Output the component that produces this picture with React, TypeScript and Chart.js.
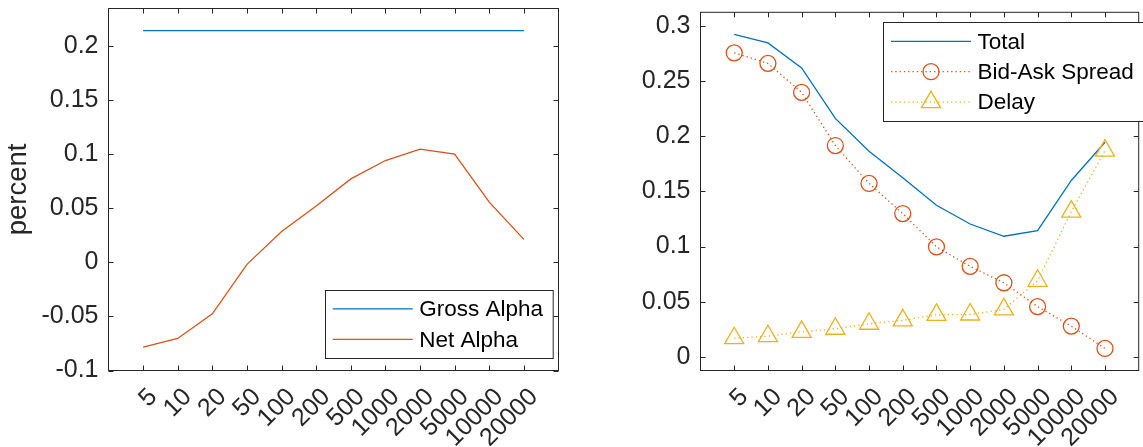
import React, { useEffect, useRef } from 'react';
import { Chart, registerables } from 'chart.js';

Chart.register(...registerables);

// ---------- data ----------
const categories = ['5', '10', '20', '50', '100', '200', '500', '1000', '2000', '5000', '10000', '20000'];

const grossAlpha = [0.2145, 0.2145, 0.2145, 0.2145, 0.2145, 0.2145, 0.2145, 0.2145, 0.2145, 0.2145, 0.2145, 0.2145];
const netAlpha = [-0.0783, -0.0703, -0.0475, -0.0018, 0.0287, 0.0523, 0.0773, 0.0943, 0.1048, 0.1002, 0.0558, 0.0213];

const totalCost = [0.2925, 0.2847, 0.262, 0.2162, 0.1865, 0.1623, 0.1374, 0.1204, 0.1093, 0.1144, 0.1599, 0.1946];
const bidAskSpread = [0.2757, 0.2662, 0.2398, 0.1916, 0.1572, 0.1299, 0.0997, 0.082, 0.0671, 0.0455, 0.0278, 0.0075];
const delayCost = [0.0168, 0.0186, 0.0225, 0.0254, 0.0299, 0.033, 0.038, 0.0383, 0.043, 0.0689, 0.1317, 0.187];

const leftYTicks = [-0.1, -0.05, 0, 0.05, 0.1, 0.15, 0.2];
const rightYTicks = [0, 0.05, 0.1, 0.15, 0.2, 0.25, 0.3];

const leftYLabel = 'percent';

// ---------- style ----------
const FONT = '"Liberation Sans", Arial, Helvetica, sans-serif';
const AX = '#262626';
const BLUE = '#0072BD';
const ORANGE = '#D95319';
const YELLOW = '#EDB120';

const toPoints = (vals: number[]) => vals.map((v, i) => ({ x: i + 1, y: v }));

const zeroPad = (s: any) => {
  s.paddingTop = 0;
  s.paddingBottom = 0;
  s.paddingLeft = 0;
  s.paddingRight = 0;
};

const boxPlugin = {
  id: 'matlabBox',
  afterDatasetsDraw(chart: any) {
    const { ctx, chartArea: a, scales } = chart;
    ctx.save();
    ctx.strokeStyle = AX;
    ctx.lineWidth = 1;
    ctx.strokeRect(a.left, a.top, a.right - a.left, a.bottom - a.top);
    const tl = 5;
    ctx.beginPath();
    scales.x.ticks.forEach((t: any) => {
      const px = Math.round(scales.x.getPixelForValue(t.value)) + 0.5;
      ctx.moveTo(px, a.bottom);
      ctx.lineTo(px, a.bottom - tl);
      ctx.moveTo(px, a.top);
      ctx.lineTo(px, a.top + tl);
    });
    scales.y.ticks.forEach((t: any) => {
      const py = Math.round(scales.y.getPixelForValue(t.value)) + 0.5;
      ctx.moveTo(a.left, py);
      ctx.lineTo(a.left + tl, py);
      ctx.moveTo(a.right, py);
      ctx.lineTo(a.right - tl, py);
    });
    ctx.stroke();
    ctx.restore();
  },
};

function drawMarker(ctx: CanvasRenderingContext2D, style: string, x: number, y: number, r: number) {
  ctx.beginPath();
  if (style === 'circle') {
    ctx.arc(x, y, r, 0, Math.PI * 2);
  } else if (style === 'triangle') {
    let rad = 0;
    ctx.moveTo(x + Math.sin(rad) * r, y - Math.cos(rad) * r);
    rad += (2 * Math.PI) / 3;
    ctx.lineTo(x + Math.sin(rad) * r, y - Math.cos(rad) * r);
    rad += (2 * Math.PI) / 3;
    ctx.lineTo(x + Math.sin(rad) * r, y - Math.cos(rad) * r);
    ctx.closePath();
  }
  ctx.stroke();
}

const legendPlugin = {
  id: 'matlabLegend',
  afterDraw(chart: any, _args: any, opts: any) {
    const { ctx, chartArea: a } = chart;
    const ds = chart.data.datasets;
    const rowGap = 30.4;
    const h = 19 * 2 + rowGap * (ds.length - 1);
    let left: number, top: number;
    if (opts.corner === 'bottomRight') {
      left = a.right - opts.dx - opts.width;
      top = a.bottom - opts.dy - h;
    } else {
      left = a.left + opts.dx;
      top = a.top + opts.dy;
    }
    ctx.save();
    ctx.fillStyle = '#ffffff';
    ctx.fillRect(left, top, opts.width, h);
    ctx.strokeStyle = AX;
    ctx.lineWidth = 1;
    ctx.strokeRect(Math.round(left) + 0.5, Math.round(top) + 0.5, opts.width, Math.round(h));
    ds.forEach((d: any, i: number) => {
      const y = top + 19 + i * rowGap;
      ctx.save();
      ctx.strokeStyle = d.borderColor;
      ctx.lineWidth = d.borderWidth;
      ctx.setLineDash(d.borderDash || []);
      ctx.beginPath();
      ctx.moveTo(left + 8, y);
      ctx.lineTo(left + 88, y);
      ctx.stroke();
      ctx.setLineDash([]);
      if (d.pointRadius > 0) {
        ctx.lineWidth = d.pointBorderWidth;
        ctx.strokeStyle = d.pointBorderColor;
        drawMarker(ctx, d.pointStyle, left + 48, y, d.pointRadius);
      }
      ctx.restore();
      ctx.fillStyle = '#000000';
      ctx.font = `22.5px ${FONT}`;
      ctx.textBaseline = 'middle';
      ctx.textAlign = 'left';
      ctx.fillText(d.label, left + 94.5, y + 1);
    });
    ctx.restore();
  },
};

function makeOptions(yTicks: number[], yMin: number, yMax: number, yWidth: number, padRight: number, legend: any, yTitle?: string) {
  return {
    responsive: false,
    animation: false,
    devicePixelRatio: 1,
    layout: { padding: { left: 0, top: 8.5, right: padRight, bottom: 0 } },
    plugins: {
      legend: { display: false },
      tooltip: { enabled: false },
      matlabLegend: legend,
    },
    scales: {
      x: {
        type: 'linear',
        min: 0,
        max: 13,
        afterBuildTicks: (s: any) => {
          s.ticks = categories.map((_, i) => ({ value: i + 1 }));
        },
        afterFit: (s: any) => {
          s.height = 76.5;
          zeroPad(s);
        },
        grid: { display: false, drawTicks: false },
        border: { display: false },
        ticks: {
          autoSkip: false,
          minRotation: 45,
          maxRotation: 45,
          padding: 12,
          labelOffset: 10,
          color: AX,
          font: { family: FONT, size: 25 },
          callback: (v: any) => categories[Number(v) - 1],
        },
      },
      y: {
        type: 'linear',
        min: yMin,
        max: yMax,
        afterBuildTicks: (s: any) => {
          s.ticks = yTicks.map((v) => ({ value: v }));
        },
        afterFit: (s: any) => {
          s.width = yWidth;
          zeroPad(s);
        },
        grid: { display: false, drawTicks: false },
        border: { display: false },
        ticks: {
          padding: 10,
          color: AX,
          font: { family: FONT, size: 25 },
          callback: (v: any) => String(v),
        },
        title: yTitle
          ? {
              display: true,
              text: yTitle,
              color: AX,
              font: { family: FONT, size: 27.5, lineHeight: 1.2 },
              padding: { top: 1.5, bottom: 0 },
            }
          : { display: false },
      },
    },
  };
}

export default function App() {
  const leftRef = useRef<HTMLCanvasElement>(null);
  const rightRef = useRef<HTMLCanvasElement>(null);

  useEffect(() => {
    const left = new Chart(leftRef.current as HTMLCanvasElement, {
      type: 'line',
      data: {
        datasets: [
          {
            label: 'Gross Alpha',
            data: toPoints(grossAlpha),
            borderColor: BLUE,
            borderWidth: 1.3,
            pointRadius: 0,
            tension: 0,
          },
          {
            label: 'Net Alpha',
            data: toPoints(netAlpha),
            borderColor: ORANGE,
            borderWidth: 1.3,
            pointRadius: 0,
            tension: 0,
          },
        ],
      },
      options: makeOptions(leftYTicks, -0.1, 0.235, 108.5, 12.5, { corner: 'bottomRight', dx: 6, dy: 12.2, width: 227.7 }, leftYLabel) as any,
      plugins: [boxPlugin, legendPlugin],
    });

    const right = new Chart(rightRef.current as HTMLCanvasElement, {
      type: 'line',
      data: {
        datasets: [
          {
            label: 'Total',
            data: toPoints(totalCost),
            borderColor: BLUE,
            borderWidth: 1.3,
            pointRadius: 0,
            tension: 0,
            order: 3,
          },
          {
            label: 'Bid-Ask Spread',
            data: toPoints(bidAskSpread),
            borderColor: ORANGE,
            borderWidth: 1.3,
            borderDash: [1.3, 3],
            pointStyle: 'circle',
            pointRadius: 8,
            pointBorderWidth: 1.3,
            pointBorderColor: ORANGE,
            pointBackgroundColor: 'rgba(0,0,0,0)',
            tension: 0,
            order: 2,
          },
          {
            label: 'Delay',
            data: toPoints(delayCost),
            borderColor: YELLOW,
            borderWidth: 1.3,
            borderDash: [1.3, 3],
            pointStyle: 'triangle',
            pointRadius: 11,
            pointBorderWidth: 1.3,
            pointBorderColor: YELLOW,
            pointBackgroundColor: 'rgba(0,0,0,0)',
            tension: 0,
            order: 1,
          },
        ],
      },
      options: makeOptions(rightYTicks, -0.0125, 0.3125, 120.5, 0.5, { corner: 'topLeft', dx: 182.5, dy: 10, width: 300 }) as any,
      plugins: [boxPlugin, legendPlugin],
    });

    return () => {
      left.destroy();
      right.destroy();
    };
  }, []);

  return (
    <div
      style={{
        position: 'fixed',
        left: 0,
        top: 0,
        width: 1143,
        height: 447,
        overflow: 'hidden',
        background: '#ffffff',
      }}
    >
      <canvas ref={leftRef} width={571} height={447} style={{ position: 'absolute', left: 0, top: 0 }} />
      <canvas ref={rightRef} width={571} height={447} style={{ position: 'absolute', left: 580, top: 0 }} />
    </div>
  );
}
